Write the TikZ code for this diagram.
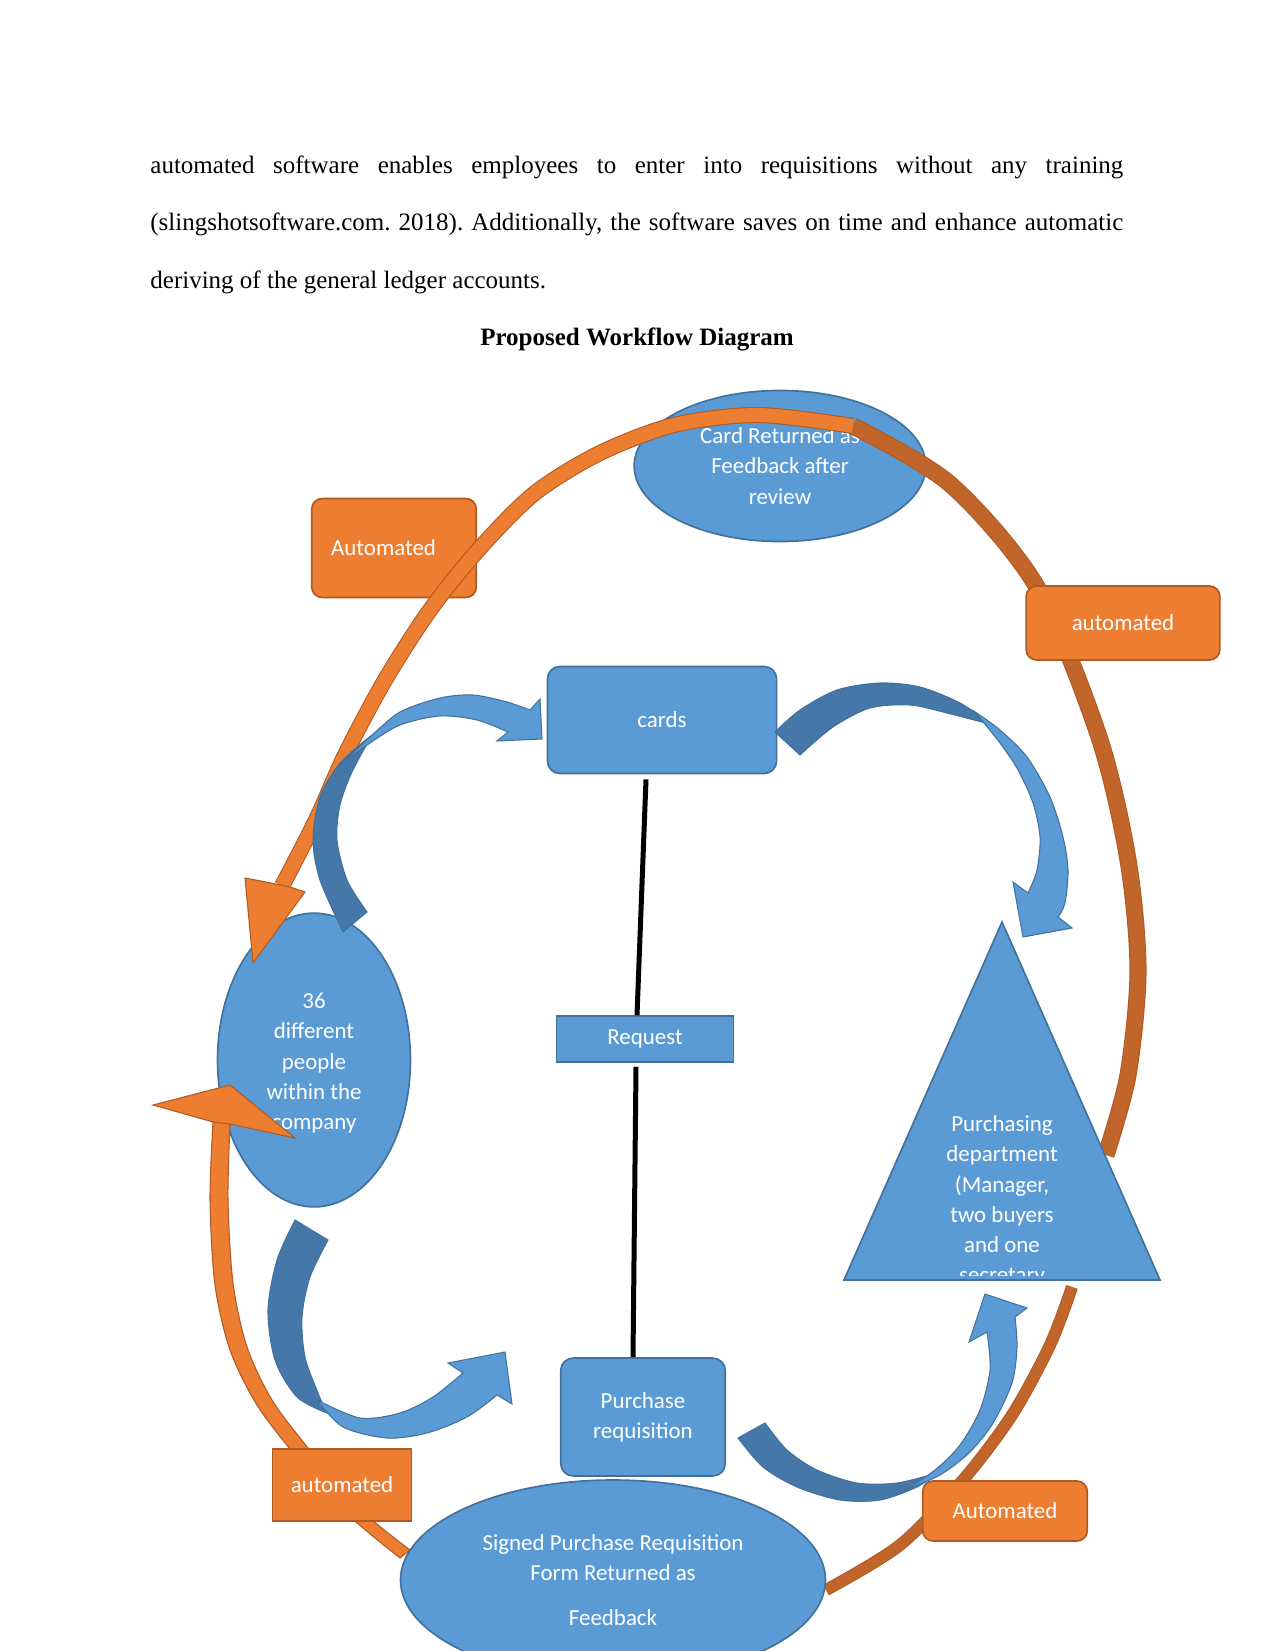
\documentclass[tikz,border=0pt]{standalone}
\usepackage{fontspec}
\setmainfont{Liberation Serif}
\newfontfamily\calib{Carlito}
\usetikzlibrary{shapes.geometric,positioning}
\definecolor{boxblue}{HTML}{5B9BD5}
\definecolor{lineblue}{HTML}{41719C}
\definecolor{backblue}{HTML}{4677A9}
\definecolor{boxorange}{HTML}{ED7D31}
\definecolor{lineorange}{HTML}{AE5A21}
\definecolor{backorange}{HTML}{C1652B}
\tikzset{prose/.style={inner sep=0pt, font=\fontsize{12}{14}\selectfont}, lbl/.style={text=white, font=\calib\fontsize{11}{14.5}\selectfont, align=center}, blob/.style={lbl, ellipse, draw=lineblue, fill=boxblue, line width=.8pt, inner sep=0pt}, card/.style={lbl, rectangle, draw=lineblue, fill=boxblue, line width=.8pt, rounded corners=6pt}, tag/.style={lbl, rectangle, draw=lineorange, fill=boxorange, line width=.8pt}, curvefront/.style={fill=boxblue, draw=lineblue, line width=.5pt}, curveback/.style={fill=backblue, draw=lineblue, line width=.5pt}, band/.style={draw=lineorange, double=boxorange, line width=.5pt}, bandback/.style={draw=lineorange, double=backorange, line width=.5pt}, link/.style={line width=2.4pt}}

\begin{document}
\frenchspacing
\begin{tikzpicture}[x=0.48pt, y=-0.48pt]
\useasboundingbox (0,0) rectangle (1275,1651);
% text above the diagram
\node[prose, anchor=base west] (para1) at (150,174) {\makebox[467pt][s]{automated software enables employees to enter into requisitions without any training}};
\node[prose, anchor=base west] (para2) at (150,231) {\makebox[467pt][s]{(slingshotsoftware.com. 2018). Additionally, the software saves on time and enhance automatic}};
\node[prose, anchor=base west] (para3) at (150,289) {deriving of the general ledger accounts.};
\node[prose, anchor=base, font=\bfseries\fontsize{12}{14}\selectfont] (title) at (637,345) {Proposed Workflow Diagram};

% shapes under the big orange arrow
\node[tag, rounded corners=5pt, minimum width=79pt, minimum height=47.5pt] (autoTop) at (394,548) {\hbox{Automated\kern10pt}};
\node[blob, minimum width=140pt, minimum height=72.5pt] (returned) at (780,466) {Card Returned as\\Feedback after\\review};
\node[blob, minimum width=92.6pt, minimum height=141pt] (people) at (314,1060) {\\[-4pt]36\\different\\people\\within the\\company};

% big orange arrow
\draw[bandback, double distance=7.2pt] plot[smooth] coordinates {(853,426) (950,484) (1037,587) (1099,737) (1128,860) (1138,970) (1128,1075) (1106,1155)};
\draw[band, double distance=6.7pt] plot[smooth] coordinates {(853,426) (758,415) (674,425) (600,453) (535,493) (480,548) (430,610) (385,680) (345,755) (316,820) (282,886)};
\filldraw[fill=boxorange, draw=lineorange, line width=.5pt] (266,882) -- (245,878) -- (253,963) -- (305,892) -- (290,887) -- cycle;
\node[tag, rounded corners=5pt, minimum width=93pt, minimum height=35.5pt] (autoRight) at (1123,623) {automated};

% middle column
\node[card, minimum width=110pt, minimum height=51.4pt] (cards) at (662,720) {cards};
\node[card, rounded corners=0pt, minimum width=85pt, minimum height=22pt] (request) at (645,1039) {Request};
\node[card, minimum width=79pt, minimum height=56.6pt] (requisition) at (643,1417) {Purchase\\requisition};
\draw[link] ([shift={(-16,5)}]cards.south) -- ([shift={(-8,0)}]request.north);
\draw[link] ([shift={(-9,4)}]request.south) -- ([shift={(-10,0)}]requisition.north);

% purchasing department
\filldraw[fill=boxblue, draw=lineblue, line width=.8pt] (1002,922) -- (1160,1280) -- (844,1280) -- cycle;
\begin{scope}
\clip (844,900) rectangle (1160,1275);
\node[lbl] (purch) at (1002,1201) {Purchasing\\department\\(Manager,\\two buyers\\and one\\secretary};
\end{scope}

% lower orange arrows
\draw[bandback, double distance=4.8pt] plot[smooth] coordinates {(1072,1287) (1050,1345) (1012,1415) (963,1480) (900,1545) (826,1590)};
\filldraw[fill=boxorange, draw=lineorange, line width=.5pt] (213,1122) -- plot[smooth] coordinates {(213,1122) (210,1200) (215,1285) (230,1350) (257,1405) (295,1455) (345,1512) (400,1558)} -- (410,1550) -- plot[smooth] coordinates {(410,1550) (355,1505) (308,1448) (272,1400) (247,1347) (233,1283) (228,1200) (230,1124)} -- cycle;
\filldraw[fill=boxorange, draw=lineorange, line width=.5pt] (213,1122) -- (153,1105) -- (230,1085) -- (295,1138) -- (230,1124) -- cycle;
\node[tag, minimum width=66.7pt, minimum height=34.6pt] (autoLeft) at (342,1485) {automated};
\node[tag, rounded corners=5pt, minimum width=79pt, minimum height=28.8pt] (autoBottom) at (1005,1511) {Automated};
\node[blob, minimum width=204pt, minimum height=96pt] (signed) at (613,1580) {Signed Purchase Requisition\\Form Returned as\\[7pt]Feedback};

% blue curved arrows
\filldraw[curveback] (343,932) -- plot[smooth] coordinates {(343,932) (320,880) (313,840) (320,797) (340,763) (372,735)} -- plot[smooth] coordinates {(372,735) (352,772) (340,805) (337,840) (347,880) (367,912)} -- cycle;
\filldraw[curvefront] (340,765) -- plot[smooth] coordinates {(340,765) (370,737) (400,712) (440,698) (473,695) (507,702) (530,710)} -- (540,699) -- (542,739) -- (497,741) -- plot[smooth] coordinates {(508,732) (477,720) (440,716) (400,725) (367,745) (340,765)} -- cycle;

\filldraw[curveback] (775,732) -- plot[smooth] coordinates {(775,732) (800,710) (837,690) (880,683) (920,687) (960,703) (993,725)} -- plot[smooth] coordinates {(993,725) (947,713) (910,705) (870,708) (833,727) (800,755)} -- cycle;
\filldraw[curvefront] (975,712) -- plot[smooth] coordinates {(975,712) (1000,730) (1027,757) (1050,797) (1063,837) (1068,870) (1065,903) (1058,917)} -- (1072,928) -- (1023,937) -- (1013,882) -- plot[smooth] coordinates {(1028,893) (1037,870) (1040,837) (1033,803) (1018,770) (1000,743) (975,712)} -- cycle;

\filldraw[curveback] (295,1220) -- plot[smooth] coordinates {(295,1220) (277,1260) (268,1310) (275,1360) (297,1397) (327,1413)} -- plot[smooth] coordinates {(327,1413) (318,1393) (305,1357) (302,1317) (310,1277) (328,1240)} -- cycle;
\filldraw[curvefront] (317,1400) -- plot[smooth] coordinates {(317,1400) (343,1427) (387,1438) (427,1433) (467,1417) (497,1395)} -- (512,1404) -- (505,1352) -- (448,1363) -- plot[smooth] coordinates {(463,1373) (433,1397) (400,1413) (360,1418) (317,1400)} -- cycle;

\filldraw[curveback] (738,1438) -- plot[smooth] coordinates {(738,1438) (763,1467) (797,1487) (840,1500) (880,1500) (917,1487) (937,1473)} -- plot[smooth] coordinates {(937,1473) (897,1483) (857,1483) (817,1470) (787,1450) (765,1423)} -- cycle;
\filldraw[curvefront] (905,1490) -- plot[smooth] coordinates {(905,1490) (940,1475) (970,1452) (993,1423) (1012,1383) (1017,1347) (1015,1317)} -- (1027,1308) -- (985,1294) -- (969,1342) -- plot[smooth] coordinates {(987,1332) (990,1370) (980,1410) (960,1445) (935,1470) (905,1490)} -- cycle;
\end{tikzpicture}
\end{document}
